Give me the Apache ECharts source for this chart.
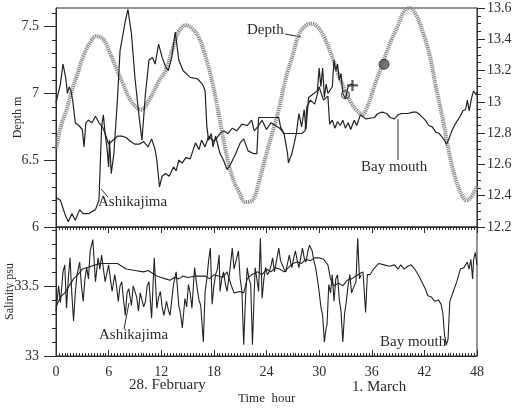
<!DOCTYPE html>
<html>
<head>
<meta charset="utf-8">
<script src="https://cdn.jsdelivr.net/npm/echarts@6/dist/echarts.min.js"></script>
<style>
  html, body { margin: 0; padding: 0; background: #fff; }
  #chart { width: 512px; height: 408px; }
</style>
</head>
<body>
<div id="chart"></div>
<script>
// time ticks (hours) and axis tick labels
const hourTicks = [0, 6, 12, 18, 24, 30, 36, 42, 48]
const depthTicks = [6, 6.5, 7, 7.5]
const tideTicks = [12.2, 12.4, 12.6, 12.8, 13, 13.2, 13.4, 13.6]
const salinityTicks = [33, 33.5]

// tide gauge depth (right axis)
const tideTime = [0, 0.6, 1.2, 1.8, 2.4, 3.1, 3.9, 4.6, 5.4, 6.1, 6.9, 7.6, 8.4, 9.1, 9.7, 10.7, 11.7, 12.5, 13.3, 14.0, 14.8, 15.5, 16.3, 17.0, 17.8, 18.6, 19.3, 20.1, 20.9, 21.6, 22.4, 23.1, 23.9, 24.7, 25.4, 26.2, 27.0, 27.7, 28.5, 29.1, 29.8, 30.6, 31.4, 32.1, 32.9, 33.6, 34.2, 34.9, 35.5, 36.3, 37.0, 38.2, 39.0, 39.7, 40.3, 41.0, 41.8, 42.6, 43.3, 44.1, 44.8, 45.6, 46.4, 46.8, 47.3, 48.0]
const tideDepth = [12.70, 12.85, 12.95, 13.07, 13.17, 13.29, 13.38, 13.42, 13.40, 13.32, 13.21, 13.12, 13.02, 12.97, 12.95, 13.02, 13.13, 13.20, 13.34, 13.45, 13.49, 13.47, 13.41, 13.30, 13.13, 12.91, 12.70, 12.52, 12.42, 12.36, 12.37, 12.48, 12.65, 12.81, 12.95, 13.15, 13.30, 13.43, 13.49, 13.50, 13.48, 13.41, 13.30, 13.19, 13.08, 13.00, 12.95, 12.92, 12.97, 13.10, 13.21, 13.39, 13.49, 13.58, 13.60, 13.56, 13.45, 13.30, 13.10, 12.89, 12.68, 12.50, 12.39, 12.37, 12.39, 12.46]

// Ashikajima depth (left axis)
const ashiTime = [0, 0.5, 1.0, 1.4, 1.8, 2.2, 2.7, 3.1, 3.7, 4.5, 4.9, 5.2, 5.4, 5.6, 5.8, 6.0, 6.1, 6.3, 6.6, 7.0, 7.3, 7.9, 8.2, 8.6, 9.0, 9.4, 9.8, 10.2, 10.6, 11.0, 11.3, 11.7, 12.1, 12.5, 12.8, 13.2, 13.6, 14.0, 14.5, 15.3, 16.1, 16.7, 17.0, 17.2, 17.4, 17.7, 17.9, 18.2, 18.7, 19.1, 19.5, 19.9, 20.5, 21.0, 21.4, 21.9, 22.5, 22.9, 23.1, 25.4, 25.6, 26.0, 26.4, 26.5, 26.9, 27.4, 27.7, 28.0, 28.3, 28.5, 28.8, 29.4, 29.8, 30.0, 30.2, 30.4, 30.6, 30.8, 31.0, 31.5, 31.7, 31.9, 32.1, 32.3, 32.5, 32.7, 33.0, 33.3, 33.6, 34.0]
const ashiDepth = [6.22, 6.20, 6.10, 6.04, 6.10, 6.05, 6.13, 6.10, 6.10, 6.13, 6.20, 6.75, 6.84, 6.70, 6.60, 6.45, 6.65, 6.40, 6.55, 6.95, 7.32, 7.54, 7.63, 7.45, 7.12, 6.87, 6.65, 7.00, 7.25, 7.27, 7.22, 7.37, 7.27, 7.20, 7.17, 7.27, 7.46, 7.25, 7.17, 7.12, 7.11, 7.07, 7.02, 6.75, 6.65, 6.70, 6.60, 6.68, 6.55, 6.50, 6.43, 6.47, 6.55, 6.63, 6.66, 6.57, 6.55, 6.55, 6.82, 6.82, 6.75, 6.70, 6.55, 6.48, 6.55, 6.70, 6.85, 6.75, 6.88, 6.73, 6.97, 7.00, 7.02, 7.19, 7.05, 7.19, 6.97, 7.07, 7.00, 7.05, 7.25, 7.17, 7.22, 7.10, 7.15, 7.00, 6.96, 7.05, 7.07, 7.06]

// Bay mouth depth (left axis)
const bayTime = [0, 0.5, 0.8, 1.1, 1.3, 1.5, 1.7, 1.9, 2.2, 2.6, 3.0, 3.2, 3.4, 3.7, 4.1, 4.5, 4.9, 5.3, 5.6, 6.0, 6.5, 7.0, 7.5, 8.0, 8.5, 9.0, 9.5, 10.0, 10.5, 10.9, 11.3, 11.5, 11.8, 12.1, 12.5, 12.9, 13.4, 13.7, 14.0, 14.4, 14.8, 15.3, 15.9, 16.3, 16.6, 17.0, 17.4, 18.0, 18.7, 19.1, 19.6, 20.1, 20.6, 21.2, 21.8, 22.3, 22.6, 23.0, 23.5, 24.0, 24.5, 25.0, 25.5, 26.0, 27.0, 28.0, 28.4, 28.6, 29.0, 29.5, 30.0, 30.5, 31.0, 31.2, 31.5, 31.8, 32.1, 32.4, 32.7, 33.0, 33.3, 33.6, 34.0, 34.3, 34.7, 35.3, 36.3, 36.7, 37.2, 37.7, 38.1, 38.6, 39.0, 39.4, 40.1, 40.7, 41.1, 41.5, 42.1, 42.5, 42.9, 43.3, 43.7, 44.3, 44.5, 44.8, 45.2, 45.6, 46.0, 46.4, 46.7, 46.9, 47.1, 47.4, 47.6, 47.9, 48.0]
const bayDepth = [6.93, 7.07, 7.22, 7.12, 7.00, 7.05, 7.02, 6.95, 6.78, 6.76, 6.73, 6.60, 6.78, 6.80, 6.78, 6.83, 6.78, 6.75, 6.70, 6.62, 6.65, 6.68, 6.68, 6.67, 6.64, 6.62, 6.62, 6.64, 6.60, 6.66, 6.58, 6.50, 6.30, 6.38, 6.40, 6.38, 6.45, 6.42, 6.50, 6.48, 6.52, 6.51, 6.63, 6.58, 6.65, 6.60, 6.68, 6.64, 6.70, 6.72, 6.70, 6.74, 6.72, 6.77, 6.76, 6.80, 6.72, 6.75, 6.80, 6.73, 6.78, 6.76, 6.74, 6.70, 6.70, 6.70, 6.72, 6.90, 6.95, 6.92, 7.05, 6.95, 6.98, 6.77, 6.80, 6.74, 6.79, 6.76, 6.80, 6.74, 6.78, 6.73, 6.80, 6.76, 6.84, 6.81, 6.82, 6.85, 6.86, 6.85, 6.82, 6.81, 6.84, 6.85, 6.85, 6.86, 6.86, 6.84, 6.80, 6.76, 6.75, 6.71, 6.70, 6.65, 6.62, 6.66, 6.73, 6.78, 6.82, 6.87, 6.88, 6.95, 6.87, 6.97, 7.02, 6.99, 7.01]

// Ashikajima salinity (lower panel)
const ashiSalTime = [0, 0.3, 0.5, 0.8, 1.0, 1.2, 1.4, 1.6, 1.8, 2.0, 2.2, 2.4, 2.7, 2.9, 3.1, 3.3, 3.5, 3.7, 3.9, 4.2, 4.5, 4.8, 5.0, 5.2, 5.6, 6.0, 6.2, 6.4, 6.7, 6.9, 7.1, 7.3, 7.5, 7.7, 7.9, 8.1, 8.3, 8.6, 8.8, 9.0, 9.2, 9.4, 9.6, 9.8, 10.0, 10.2, 10.4, 10.6, 10.9, 11.2, 11.5, 11.7, 11.9, 12.1, 12.3, 12.6, 12.8, 13.0, 13.2, 13.4, 13.7, 14.0, 14.2, 14.4, 14.7, 14.9, 15.1, 15.3, 15.5, 15.8, 16.1, 16.3, 16.5, 16.8, 17.0, 17.2, 17.4, 17.6, 17.8, 18.0, 18.2, 18.4, 18.6, 18.7, 18.9, 19.1, 19.3, 19.5, 19.8, 20.1, 20.3, 20.5, 20.8, 21.0, 21.2, 21.4, 21.6, 21.8, 22.0, 22.2, 22.4, 22.6, 22.7, 22.9, 23.1, 23.3, 23.5, 23.7, 23.9, 24.1, 24.3, 24.5, 24.7, 24.9, 25.0, 25.2, 25.4, 25.6, 25.8, 26.0, 26.2, 26.4, 26.6, 26.8, 26.9, 27.1, 27.3, 27.5, 27.7, 27.9, 28.1, 28.3, 28.5, 28.7, 28.9, 29.2, 29.4, 29.6, 29.8, 30.0, 30.2, 30.4, 30.6, 30.8, 30.9, 31.1, 31.3, 31.5, 31.7, 31.9, 32.1, 32.3, 32.5, 32.7, 32.9, 33.1, 33.3, 33.5, 33.7, 33.8, 34.0, 34.2, 34.4, 34.6, 34.8]
const ashiSal = [33.32, 33.50, 33.38, 33.60, 33.65, 33.34, 33.55, 33.70, 33.45, 33.25, 33.45, 33.58, 33.67, 33.50, 33.39, 33.55, 33.63, 33.55, 33.75, 33.83, 33.53, 33.70, 33.62, 33.72, 33.53, 33.65, 33.55, 33.46, 33.58, 33.50, 33.39, 33.50, 33.53, 33.40, 33.29, 33.45, 33.48, 33.36, 33.50, 33.51, 33.42, 33.32, 33.45, 33.46, 33.35, 33.39, 33.50, 33.53, 33.27, 33.70, 33.34, 33.42, 33.46, 33.35, 33.29, 33.39, 33.33, 33.29, 33.40, 33.51, 33.60, 33.36, 33.30, 33.20, 33.41, 33.35, 33.51, 33.45, 33.34, 33.63, 33.48, 33.40, 33.36, 33.10, 33.46, 33.55, 33.68, 33.77, 33.37, 33.50, 33.58, 33.62, 33.72, 33.46, 33.55, 33.60, 33.52, 33.46, 33.60, 33.77, 33.62, 33.63, 33.75, 33.55, 33.46, 33.08, 33.40, 33.63, 33.55, 33.51, 33.08, 33.45, 33.63, 33.55, 33.46, 33.84, 33.41, 33.55, 33.63, 33.58, 33.60, 33.64, 33.70, 33.60, 33.60, 33.70, 33.77, 33.68, 33.67, 33.62, 33.60, 33.66, 33.72, 33.65, 33.63, 33.70, 33.75, 33.68, 33.63, 33.70, 33.77, 33.70, 33.67, 33.74, 33.79, 33.75, 33.68, 33.63, 33.55, 33.46, 33.35, 33.29, 33.10, 33.20, 33.22, 33.51, 33.45, 33.58, 33.39, 33.55, 33.58, 33.40, 33.32, 33.10, 33.30, 33.39, 33.50, 33.58, 33.45, 33.44, 33.50, 33.53, 33.84, 33.55, 33.58]

// Bay mouth salinity (lower panel)
const baySalTime = [0, 0.5, 1, 1.5, 2, 2.5, 3, 3.5, 4, 5, 6, 7, 7.5, 8, 9, 10, 10.5, 11, 11.5, 12, 12.5, 13, 13.5, 14, 14.5, 15, 16, 17, 17.5, 18, 18.5, 19, 19.5, 20, 20.3, 21, 21.4, 21.8, 22.3, 23, 23.5, 24, 24.5, 25, 25.5, 26, 26.5, 27, 27.5, 28, 28.5, 29, 29.5, 30, 30.5, 31, 31.3, 31.7, 32.2, 32.7, 33.2, 33.7, 34.2, 34.7, 35.0, 35.3, 35.5, 35.8, 36.2, 36.8, 37.4, 38.0, 38.6, 39.0, 39.3, 39.7, 40.1, 40.5, 40.9, 41.3, 41.7, 42.1, 42.4, 42.8, 43.2, 43.6, 43.9, 44.1, 44.3, 44.5, 44.7, 44.9, 45.3, 45.7, 46.1, 46.5, 46.9, 47.1, 47.3, 47.5, 47.6, 47.8, 48]
const baySal = [33.35, 33.42, 33.45, 33.50, 33.55, 33.58, 33.62, 33.63, 33.64, 33.66, 33.66, 33.66, 33.64, 33.62, 33.61, 33.60, 33.61, 33.59, 33.57, 33.56, 33.55, 33.54, 33.56, 33.55, 33.57, 33.56, 33.57, 33.57, 33.55, 33.58, 33.57, 33.56, 33.60, 33.50, 33.45, 33.46, 33.45, 33.55, 33.58, 33.60, 33.58, 33.62, 33.60, 33.63, 33.62, 33.60, 33.63, 33.66, 33.67, 33.66, 33.69, 33.68, 33.70, 33.70, 33.69, 33.65, 33.55, 33.50, 33.52, 33.50, 33.54, 33.55, 33.57, 33.59, 33.60, 33.31, 33.58, 33.58, 33.62, 33.66, 33.65, 33.64, 33.65, 33.62, 33.65, 33.62, 33.64, 33.65, 33.62, 33.58, 33.53, 33.48, 33.43, 33.42, 33.39, 33.40, 33.37, 33.31, 33.15, 33.08, 33.12, 33.39, 33.46, 33.53, 33.62, 33.63, 33.67, 33.62, 33.69, 33.55, 33.68, 33.74, 33.65]

// marked points near the end of the Ashikajima record
const tideMark = [37.4, 13.24]
const ashiOpenMark = [33.0, 6.99]
const ashiPlusMark = [33.8, 7.06]

const zip = (xs, ys) => xs.map((x, i) => [x, ys[i]])

const serif = 'Liberation Serif'
const ink = '#2b2b2b'
const lineColor = '#232323'

const chart = echarts.init(document.getElementById('chart'), null, { renderer: 'canvas' })

const tickLabel = { fontFamily: serif, fontSize: 14, color: ink }

const option = {
  animation: false,
  backgroundColor: '#fff',
  grid: [
    { left: 56, right: 35, top: 8, height: 219, outerBoundsMode: 'none', containLabel: false, show: true, borderColor: ink, borderWidth: 1 },
    { left: 56, right: 35, top: 227, height: 129, outerBoundsMode: 'none', containLabel: false, show: true, borderColor: ink, borderWidth: 1 }
  ],
  xAxis: [
    {
      gridIndex: 0, type: 'value', min: 0, max: 48, interval: 6,
      axisLine: { lineStyle: { color: ink } },
      axisTick: { show: false }, axisLabel: { show: false }, splitLine: { show: false }
    },
    {
      gridIndex: 1, type: 'value', min: 0, max: 48, interval: 6, position: 'bottom',
      axisLine: { lineStyle: { color: ink } },
      axisTick: { inside: true, length: 6, lineStyle: { color: ink } },
      minorTick: { show: true, splitNumber: 18, length: 3, lineStyle: { color: ink } },
      axisLabel: Object.assign({ margin: 9, customValues: hourTicks }, tickLabel),
      splitLine: { show: false }
    },
    {
      gridIndex: 1, type: 'value', min: 0, max: 48, interval: 6, position: 'top',
      axisLine: { lineStyle: { color: ink } },
      axisTick: { inside: true, length: 6, lineStyle: { color: ink } },
      minorTick: { show: true, splitNumber: 18, length: 3, lineStyle: { color: ink } },
      axisLabel: { show: false }, splitLine: { show: false }
    }
  ],
  yAxis: [
    {
      gridIndex: 0, type: 'value', min: 6, max: 7.64, interval: 0.5, position: 'left',
      name: 'Depth m', nameLocation: 'middle', nameGap: 32, nameRotate: 90, nameMoveOverlap: false,
      nameTextStyle: { fontFamily: serif, fontSize: 12, color: ink },
      axisLine: { show: true, lineStyle: { color: ink } },
      axisTick: { length: 12, customValues: depthTicks, lineStyle: { color: ink } },
      minorTick: { show: true, splitNumber: 5, length: 4, lineStyle: { color: ink } },
      axisLabel: Object.assign({ margin: 17, customValues: depthTicks }, tickLabel),
      splitLine: { show: false }
    },
    {
      gridIndex: 0, type: 'value', min: 12.2, max: 13.6, interval: 0.2, position: 'right',
      axisLine: { show: true, lineStyle: { color: ink } },
      axisTick: { length: 8, lineStyle: { color: ink } },
      minorTick: { show: true, splitNumber: 4, length: 4, lineStyle: { color: ink } },
      axisLabel: Object.assign({ margin: 10, customValues: tideTicks, formatter: v => String(+v.toFixed(1)) }, tickLabel),
      splitLine: { show: false }
    },
    {
      gridIndex: 1, type: 'value', min: 33, max: 33.92, interval: 0.5, position: 'left',
      name: 'Salinity psu', nameLocation: 'middle', nameGap: 40, nameRotate: 90, nameMoveOverlap: false,
      nameTextStyle: { fontFamily: serif, fontSize: 12, color: ink },
      axisLine: { show: true, lineStyle: { color: ink } },
      axisTick: { length: 12, customValues: salinityTicks, lineStyle: { color: ink } },
      minorTick: { show: true, splitNumber: 5, length: 4, lineStyle: { color: ink } },
      axisLabel: Object.assign({ margin: 17, customValues: salinityTicks }, tickLabel),
      splitLine: { show: false }
    },
    {
      gridIndex: 1, type: 'value', min: 33, max: 33.92, position: 'right',
      axisLine: { show: true, lineStyle: { color: ink } },
      axisTick: { show: false }, axisLabel: { show: false }, splitLine: { show: false }
    }
  ],
  series: [
    {
      name: 'Depth', type: 'line', xAxisIndex: 0, yAxisIndex: 1, smooth: 0.4,
      showSymbol: false, z: 1,
      lineStyle: { color: '#8a8a8a', width: 4, type: [1.2, 0.8] },
      data: zip(tideTime, tideDepth)
    },
    {
      name: 'Ashikajima depth', type: 'line', xAxisIndex: 0, yAxisIndex: 0,
      showSymbol: false, z: 3,
      lineStyle: { color: lineColor, width: 1.2 },
      data: zip(ashiTime, ashiDepth)
    },
    {
      name: 'Bay mouth depth', type: 'line', xAxisIndex: 0, yAxisIndex: 0,
      showSymbol: false, z: 3,
      lineStyle: { color: lineColor, width: 1.2 },
      data: zip(bayTime, bayDepth)
    },
    {
      type: 'scatter', xAxisIndex: 0, yAxisIndex: 1, symbolSize: 10, z: 4,
      itemStyle: { color: '#555', borderColor: '#222', borderWidth: 1 },
      data: [tideMark]
    },
    {
      type: 'scatter', xAxisIndex: 0, yAxisIndex: 0, symbol: 'circle', symbolSize: 8, z: 4,
      itemStyle: { color: 'rgba(0,0,0,0)', borderColor: '#444', borderWidth: 1.2 },
      data: [ashiOpenMark]
    },
    {
      type: 'scatter', xAxisIndex: 0, yAxisIndex: 0, symbol: 'path://M4,0 L6,0 L6,4 L10,4 L10,6 L6,6 L6,10 L4,10 L4,6 L0,6 L0,4 L4,4 Z',
      symbolSize: 11, z: 4,
      itemStyle: { color: '#333' },
      data: [ashiPlusMark]
    },
    {
      name: 'Ashikajima salinity', type: 'line', xAxisIndex: 1, yAxisIndex: 2,
      showSymbol: false, z: 3,
      lineStyle: { color: lineColor, width: 1.1 },
      data: zip(ashiSalTime, ashiSal)
    },
    {
      name: 'Bay mouth salinity', type: 'line', xAxisIndex: 1, yAxisIndex: 2,
      showSymbol: false, z: 3,
      lineStyle: { color: lineColor, width: 1.1 },
      data: zip(baySalTime, baySal)
    }
  ],
  graphic: [
    // in-plot annotations
    { type: 'text', left: 247, top: 23, style: { text: 'Depth', font: '15px "Liberation Serif"', fill: ink } },
    { type: 'line', shape: { x1: 285, y1: 34, x2: 301, y2: 37 }, style: { stroke: ink, lineWidth: 1 } },
    { type: 'text', left: 98, top: 195, style: { text: 'Ashikajima', font: '15px "Liberation Serif"', fill: ink } },
    { type: 'line', shape: { x1: 101, y1: 189, x2: 108, y2: 197 }, style: { stroke: ink, lineWidth: 1 } },
    { type: 'text', left: 361, top: 160, style: { text: 'Bay mouth', font: '15px "Liberation Serif"', fill: ink } },
    { type: 'line', shape: { x1: 398, y1: 119, x2: 398, y2: 160 }, style: { stroke: ink, lineWidth: 1 } },
    { type: 'text', left: 99, top: 328, style: { text: 'Ashikajima', font: '15px "Liberation Serif"', fill: ink } },
    { type: 'line', shape: { x1: 124, y1: 329, x2: 129, y2: 303 }, style: { stroke: ink, lineWidth: 1 } },
    { type: 'text', left: 380, top: 335, style: { text: 'Bay mouth', font: '15px "Liberation Serif"', fill: ink } },
    // date and axis captions under the time axis
    { type: 'text', left: 129, top: 378, style: { text: '28. February', font: '15px "Liberation Serif"', fill: ink } },
    { type: 'text', left: 352, top: 380, style: { text: '1. March', font: '15px "Liberation Serif"', fill: ink } },
    { type: 'text', left: 238, top: 392, style: { text: 'Time  hour', font: '13px "Liberation Serif"', fill: ink } }
  ]
}

chart.setOption(option)
</script>
</body>
</html>
